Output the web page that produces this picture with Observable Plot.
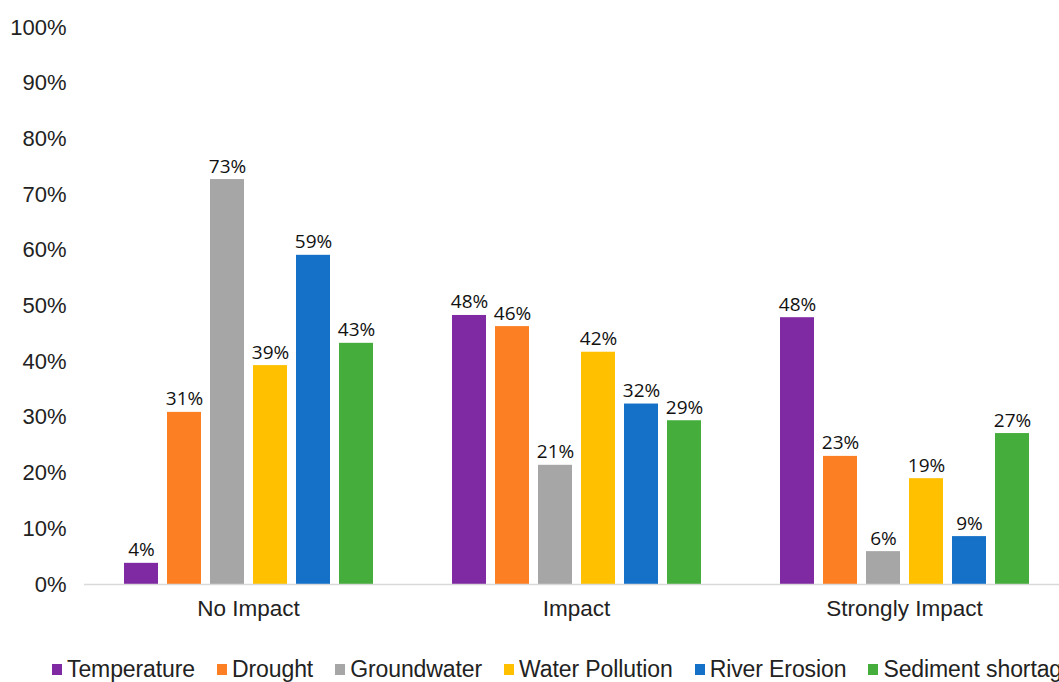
<!DOCTYPE html>
<html>
<head>
<meta charset="utf-8">
<script src="https://cdn.jsdelivr.net/npm/d3@7"></script>
<script src="https://cdn.jsdelivr.net/npm/@observablehq/plot@0.6"></script>
<style>
  html, body { margin: 0; padding: 0; background: #fff; overflow: hidden; width: 1059px; height: 682px; }
  #chart { width: 1059px; overflow: hidden; }
  #chart svg { display: block; max-width: none !important; }
  #legend { display: flex; align-items: center; padding-left: 52px; margin-top: 20px;
            font-family: "Liberation Sans", Arial, sans-serif; font-size: 23px; color: #222; white-space: nowrap; letter-spacing: -0.1px; }
  .item { display: flex; align-items: center; margin-right: 22px; flex-shrink: 0; }
  .sw { width: 10px; height: 11px; margin-right: 5px; }
</style>
</head>
<body>
<div id="chart"></div>
<div id="legend"></div>
<script>
const groups = ["No Impact", "Impact", "Strongly Impact"];
const series = ["Temperature", "Drought", "Groundwater", "Water Pollution", "River Erosion", "Sediment shortage"];
const colors = ["#7f2aa3", "#fd7f23", "#a6a6a6", "#ffc000", "#1570c8", "#45ad3c"];
const noImpact = [3.8, 30.9, 72.7, 39.3, 59.1, 43.3];
const impact = [48.3, 46.3, 21.4, 41.7, 32.4, 29.4];
const stronglyImpact = [47.9, 23.0, 5.9, 19.0, 8.6, 27.1];
const yTicks = [0, 10, 20, 30, 40, 50, 60, 70, 80, 90, 100];

const valuesByGroup = [noImpact, impact, stronglyImpact];
const data = [];
groups.forEach((g, gi) => series.forEach((s, si) => data.push({group: g, series: s, value: valuesByGroup[gi][si]})));

const chart = Plot.plot({
  width: 1068,
  height: 636,
  marginLeft: 84,
  marginRight: 0,
  marginTop: 27,
  marginBottom: 52,
  style: {fontFamily: "'Liberation Sans', Arial, sans-serif", fontSize: "22px", color: "#222", overflow: "visible"},
  fx: {domain: groups, padding: 0, label: null},
  x: {domain: series, paddingInner: 0.22, paddingOuter: 0.87, axis: null},
  y: {domain: [0, 100], label: null},
  color: {domain: series, range: colors},
  marks: [
    Plot.axisY({ticks: yTicks, tickFormat: d => d + "%", tickSize: 0, tickPadding: 18, fontSize: 22, label: null}),
    Plot.axisFx({anchor: "bottom", tickSize: 0, tickPadding: 16, fontSize: 22.5, label: null}),
    Plot.barY(data, {fx: "group", x: "series", y: "value", fill: "series"}),
    Plot.ruleY([0], {stroke: "#d9d9d9", strokeWidth: 1.5}),
    Plot.text(data, {fx: "group", x: "series", y: "value", text: d => Math.round(d.value) + "%",
      lineAnchor: "bottom", dy: -7, fontSize: 19, fontFamily: "'Open Sans', sans-serif", fill: "#111"})
  ]
});
chart.style.maxWidth = "none";
chart.style.height = "636px";
document.getElementById("chart").appendChild(chart);

const legend = document.getElementById("legend");
series.forEach((s, i) => {
  const item = document.createElement("div");
  item.className = "item";
  const sw = document.createElement("div");
  sw.className = "sw";
  sw.style.background = colors[i];
  const label = document.createElement("span");
  label.textContent = s;
  item.appendChild(sw);
  item.appendChild(label);
  legend.appendChild(item);
});
</script>
</body>
</html>
